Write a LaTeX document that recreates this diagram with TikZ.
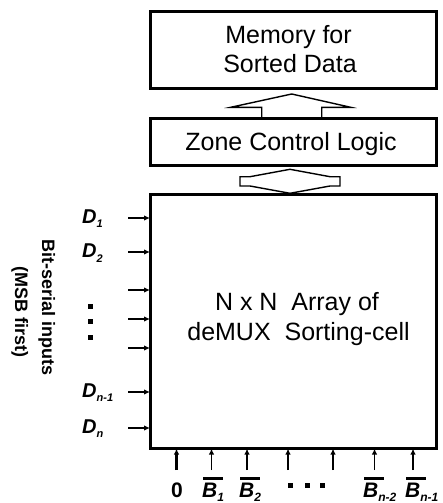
\documentclass[tikz,border=0pt]{standalone}
\usepackage{fontspec}
\setmainfont{Liberation Sans}
\usetikzlibrary{arrows.meta}
\newcommand\dsub[1]{\raisebox{-4.5pt}{\fontsize{11}{11}\selectfont #1}}
\newcommand\bsub[1]{\raisebox{-4pt}{\fontsize{12}{12}\selectfont #1}}
\newcommand\ovlB{\leavevmode\rlap{\kern1pt\rule[17.5pt]{20pt}{3pt}}B}
\tikzset{
  boxline/.style={draw, line width=3pt, inner sep=0pt, outer sep=0pt},
  fatarrow/.style={draw, line width=1.4pt, fill=white, line join=miter},
  inarrow/.style={-{Latex[length=6pt,width=5.5pt]}, line width=1.5pt},
  bigtext/.style={anchor=base, inner sep=0pt, font=\fontsize{25}{30}\selectfont},
  dlab/.style={anchor=base west, inner sep=0pt, font=\fontsize{20}{20}\selectfont\bfseries\itshape},
  blab/.style={anchor=base west, inner sep=0pt, font=\fontsize{21}{21}\selectfont\bfseries\itshape},
  dotsq/.style={fill=black, minimum size=5pt, inner sep=0pt},
  sidetext/.style={anchor=base, inner sep=0pt, rotate=-90, font=\fontsize{18}{18}\selectfont\bfseries}
}
\begin{document}
\begin{tikzpicture}[x=1pt,y=-1pt]
\useasboundingbox (0,0) rectangle (443,503);
% fat arrows
\draw[fatarrow] (291.7,94) -- (350.7,107.3) -- (321.7,107.3) -- (321.7,118.3)
  -- (261.7,118.3) -- (261.7,107.3) -- (230.7,107.3) -- cycle;
\draw[fatarrow] (290,169.3) -- (330,176.7) -- (340,176.7) -- (340,186) -- (330,186)
  -- (290,193.3) -- (250,186) -- (240,186) -- (240,176.7) -- (250,176.7) -- cycle;
% boxes
\node[boxline, minimum width=286pt, minimum height=76.6pt] (mem) at (293,50) {};
\node[boxline, minimum width=286pt, minimum height=46.7pt] (zone) at (293,141.7) {};
\node[boxline, minimum width=286pt, minimum height=254.5pt] (main) at (293,321.3) {};
% texts
\node[bigtext] (memA) at (288.5,43.3) {Memory for};
\node[bigtext] (memB) at (290,72.7) {Sorted Data};
\node[bigtext] (zoneT) at (291,150.5) {Zone Control Logic};
\node[bigtext] (arrA) at (297,310) {N x N\ \ Array of};
\node[bigtext] (arrB) at (298.5,340) {deMUX\ \ Sorting-cell};
% left inputs
\foreach \n/\y in {a/218,b/252,c/290,d/319,e/348,f/392,g/428}{
  \coordinate (in\n) at (128,\y);
  \draw[inarrow] (in\n) -- (in\n -| main.west);
}
\node[dlab] (D1) at (82,223) {D\dsub{1}};
\node[dlab] (D2) at (82,257.5) {D\dsub{2}};
\node[dlab] (Dn1) at (82,397) {D\dsub{n-1}};
\node[dlab] (Dn) at (82,433) {D\dsub{n}};
\node[dotsq] (ld1) at (90.5,306.5) {};
\node[dotsq] (ld2) at (90.5,321.5) {};
\node[dotsq] (ld3) at (90.5,337.5) {};
\node[sidetext] (side1) at (42,307.5) {Bit-serial inputs};
\node[sidetext] (side2) at (15,312) {(MSB first)};
% bottom inputs
\foreach \n/\x in {b/211.5,c/247,d/288,e/333,f/374.5,g/413}{
  \coordinate (bt\n) at (\x,470);
  \draw[inarrow] (bt\n) -- (bt\n |- main.south);
}
\coordinate (bta) at (176.5,470);
\draw[inarrow, line width=2.3pt] (bta) -- (bta |- main.south);
\node[anchor=base, inner sep=0pt, font=\fontsize{21}{21}\selectfont\bfseries] (z0) at (177,497) {0};
\node[blab] (B1) at (202,497) {\ovlB\bsub{1}};
\node[blab] (B2) at (239,497) {\ovlB\bsub{2}};
\node[blab] (Bn2) at (363,497) {\ovlB\bsub{n-2}};
\node[blab] (Bn1) at (405,497) {\ovlB\bsub{n-1}};
\node[dotsq] (bd1) at (290.5,485.5) {};
\node[dotsq] (bd2) at (307.5,485.5) {};
\node[dotsq] (bd3) at (322.5,485.5) {};
\end{tikzpicture}
\end{document}
